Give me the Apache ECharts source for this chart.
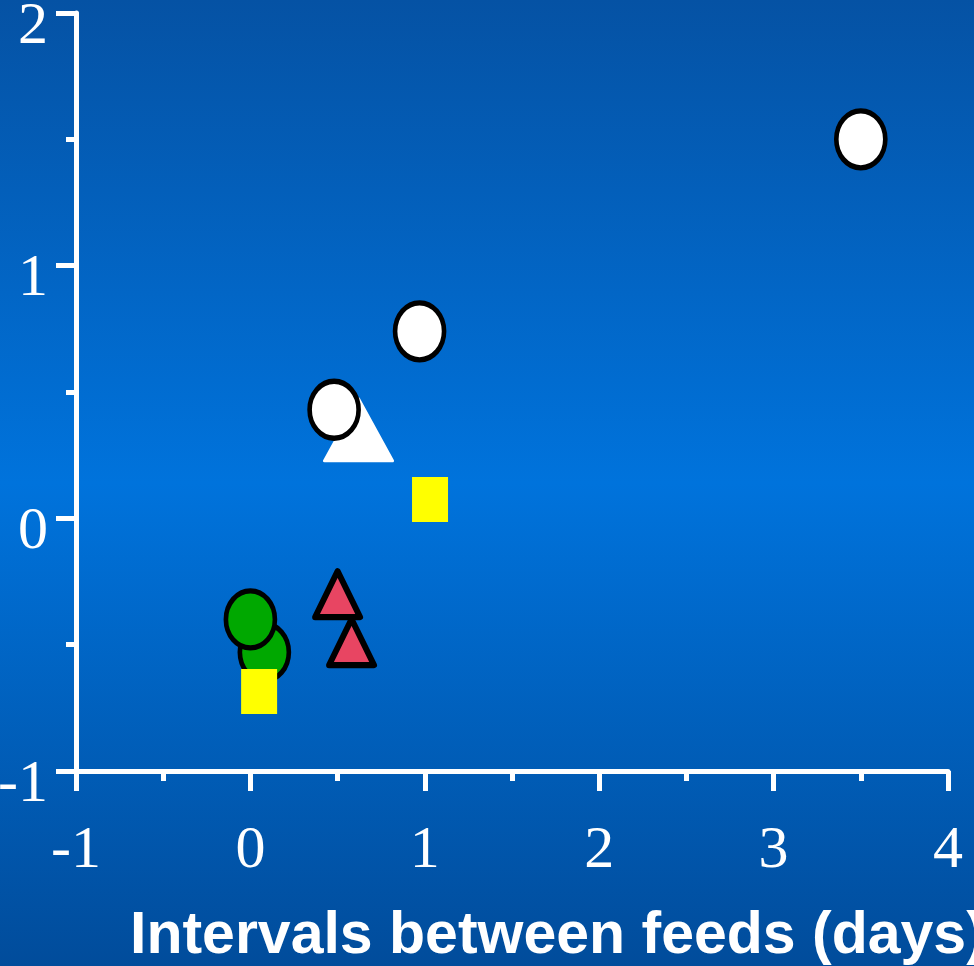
<!DOCTYPE html>
<html>
<head>
<meta charset="utf-8">
<script src="https://cdn.jsdelivr.net/npm/echarts@6/dist/echarts.min.js"></script>
<style>
  html, body { margin: 0; padding: 0; }
  #chart { width: 974px; height: 966px; }
</style>
</head>
<body>
<div id="chart"></div>
<script>
// Axis ranges
const xRange = [-1, 4];
const yRange = [-1, 2];

// Observations, [interval between feeds (days), response]
const whiteTriangles = [[0.62, 0.35]];
const whiteCircles = [[3.50, 1.50], [0.97, 0.74], [0.48, 0.43]];
const greenCircles = [[0.08, -0.53], [0.00, -0.40]];
const redTriangles = [[0.50, -0.30], [0.58, -0.49]];
const yellowSquares = [[1.03, 0.075], [0.05, -0.685]];

const axisTitle = 'Intervals between feeds (days)';

// Ellipse outline, stretched to the symbol box
const ellipse = 'path://M0,-1A1,1,0,1,1,0,1A1,1,0,1,1,0,-1Z';

const chart = echarts.init(document.getElementById('chart'), null, { renderer: 'canvas' });

const axisCommon = {
  axisLine: { show: true, onZero: false, lineStyle: { color: '#ffffff', width: 5 } },
  axisTick: { show: true, inside: false, length: 20, lineStyle: { color: '#ffffff', width: 5 } },
  minorTick: { show: true, splitNumber: 2, length: 10, lineStyle: { color: '#ffffff', width: 5 } },
  splitLine: { show: false },
  minorSplitLine: { show: false }
};

chart.setOption({
  backgroundColor: {
    type: 'linear', x: 0, y: 0, x2: 0, y2: 1,
    colorStops: [
      { offset: 0, color: '#0552a4' },
      { offset: 0.5, color: '#0073dc' },
      { offset: 1, color: '#014c9b' }
    ]
  },
  animation: false,
  grid: { left: 76, right: 26, top: 13, bottom: 195, containLabel: false, outerBoundsMode: 'none' },
  xAxis: Object.assign({
    type: 'value', min: xRange[0], max: xRange[1], interval: 1,
    axisLabel: {
      color: '#ffffff', fontFamily: 'Liberation Serif', fontSize: 60, margin: 50
    }
  }, axisCommon),
  yAxis: Object.assign({
    type: 'value', min: yRange[0], max: yRange[1], interval: 1,
    axisLabel: {
      color: '#ffffff', fontFamily: 'Liberation Serif', fontSize: 60, margin: 28,
      verticalAlign: 'top', lineHeight: 28
    }
  }, axisCommon),
  graphic: [{
    type: 'text',
    style: {
      text: axisTitle, x: 130, y: 937,
      font: 'bold 59px "Liberation Sans", Arial, sans-serif',
      fill: '#ffffff', textAlign: 'left', textVerticalAlign: 'middle'
    }
  }],
  series: [
    {
      type: 'scatter', data: whiteTriangles, symbol: 'triangle', symbolSize: [68, 62],
      itemStyle: { color: '#ffffff', borderColor: '#ffffff', borderWidth: 3, borderJoin: 'round', opacity: 1 }
    },
    {
      type: 'scatter', data: whiteCircles, symbol: ellipse, symbolSize: [49, 57],
      itemStyle: { color: '#ffffff', borderColor: '#000000', borderWidth: 5, opacity: 1 }
    },
    {
      type: 'scatter', data: greenCircles, symbol: ellipse, symbolSize: [49, 57],
      itemStyle: { color: '#00a800', borderColor: '#000000', borderWidth: 5, opacity: 1 }
    },
    {
      type: 'scatter', data: redTriangles, symbol: 'triangle', symbolSize: [45, 46],
      itemStyle: { color: '#e84562', borderColor: '#000000', borderWidth: 6, borderJoin: 'round', opacity: 1 }
    },
    {
      type: 'scatter', data: yellowSquares, symbol: 'rect', symbolSize: [36, 45],
      itemStyle: { color: '#ffff00', opacity: 1 }
    }
  ]
});
</script>
</body>
</html>
